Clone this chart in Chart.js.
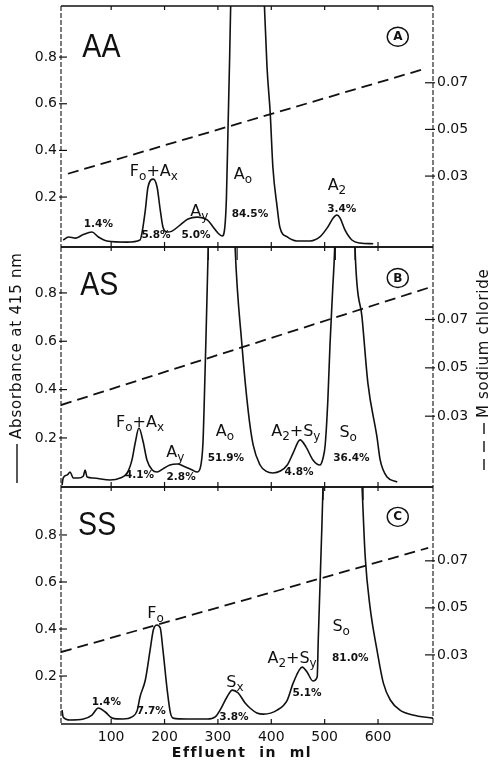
<!DOCTYPE html>
<html>
<head>
<meta charset="utf-8">
<script src="https://cdn.jsdelivr.net/npm/chart.js@4.4.1/dist/chart.umd.min.js"></script>
<style>
html,body{margin:0;padding:0;background:#fff;}
#wrap{width:495px;height:763px;position:relative;}
canvas{display:block;}
</style>
</head>
<body>
<div id="wrap"><canvas id="chart" width="495" height="763"></canvas></div>
<script>
// ---------------- DATA ----------------
const panelNames = ['AA', 'AS', 'SS'];
const panelTags = ['A', 'B', 'C'];
const effluentTicks = [100, 200, 300, 400, 500, 600];
const absorbanceTicks = [0.2, 0.4, 0.6, 0.8];
const chlorideTicks = [0.03, 0.05, 0.07];

// Absorbance at 415 nm vs effluent (ml)
const mlAA  = [10, 20, 33, 46, 64, 76, 92, 130, 154, 158, 164, 169, 179, 186, 192, 197, 205, 214, 229, 244, 261, 280, 291, 300, 308, 313, 316, 319, 322, 324, 355, 387, 392, 398, 403, 411, 416, 430, 448, 473, 491, 506, 516, 523, 529, 538, 551, 566, 591];
const absAA = [0.016, 0.029, 0.024, 0.037, 0.050, 0.029, 0.012, 0.007, 0.016, 0.050, 0.144, 0.243, 0.277, 0.243, 0.144, 0.072, 0.050, 0.054, 0.080, 0.106, 0.114, 0.102, 0.072, 0.046, 0.033, 0.072, 0.200, 0.500, 0.800, 1.030, 3.000, 1.030, 0.757, 0.560, 0.328, 0.157, 0.072, 0.029, 0.012, 0.012, 0.029, 0.072, 0.110, 0.123, 0.110, 0.059, 0.016, 0.003, 0.000];

const mlAS  = [8, 10, 18, 23, 29, 38, 48, 51, 55, 66, 98, 117, 130, 139, 145, 152, 160, 167, 177, 186, 197, 210, 224, 235, 252, 261, 267, 272, 274, 278, 282, 306, 332, 345, 357, 366, 379, 390, 403, 417, 430, 441, 454, 465, 478, 491, 497, 501, 506, 510, 515, 519, 538, 557, 570, 581, 598, 604, 617, 636];
const absAS = [0.005, 0.034, 0.047, 0.059, 0.034, 0.034, 0.043, 0.067, 0.038, 0.034, 0.026, 0.034, 0.055, 0.109, 0.179, 0.241, 0.183, 0.109, 0.067, 0.059, 0.072, 0.088, 0.092, 0.084, 0.067, 0.059, 0.076, 0.179, 0.316, 0.647, 1.000, 3.000, 1.000, 0.585, 0.307, 0.171, 0.088, 0.063, 0.055, 0.063, 0.088, 0.138, 0.192, 0.163, 0.109, 0.088, 0.117, 0.171, 0.357, 0.585, 0.813, 1.000, 3.000, 0.978, 0.700, 0.427, 0.204, 0.109, 0.038, 0.018];

const mlSS  = [8, 10, 23, 48, 64, 76, 89, 102, 122, 139, 149, 154, 164, 173, 179, 186, 192, 197, 205, 211, 216, 242, 280, 295, 304, 317, 327, 338, 351, 360, 373, 385, 411, 430, 441, 458, 467, 478, 486, 488, 491, 495, 497, 533, 570, 576, 585, 598, 610, 623, 641, 665, 703];
const absSS = [0.055, 0.026, 0.013, 0.017, 0.034, 0.064, 0.047, 0.021, 0.017, 0.026, 0.055, 0.111, 0.183, 0.311, 0.396, 0.417, 0.404, 0.311, 0.140, 0.043, 0.021, 0.017, 0.017, 0.026, 0.055, 0.111, 0.140, 0.128, 0.085, 0.064, 0.043, 0.038, 0.055, 0.098, 0.170, 0.238, 0.217, 0.179, 0.196, 0.353, 0.566, 0.851, 1.010, 3.000, 1.010, 0.706, 0.494, 0.311, 0.170, 0.098, 0.055, 0.034, 0.021];

// Sodium chloride gradient (M) vs effluent (ml)
const gradMlAA = [19, 688];
const gradAA   = [0.031, 0.076];
const gradMlAS = [6, 694];
const gradAS   = [0.0346, 0.0831];
const gradMlSS = [6, 694];
const gradSS   = [0.0312, 0.0755];

// fraction cut marks (ml)
const cutsAA = [282, 336, 520, 557];
const cutsAS = [497, 572];
const cutsSS = [];

// peak labels: text, ml, absorbance, kind (n = name, p = percent)
const labelsAA = [
  ['1.4%', 76, 0.089, 'p'], ['F_o+A_x', 180, 0.316, 'n'], ['5.8%', 184, 0.042, 'p'],
  ['A_y', 265, 0.144, 'n'], ['5.0%', 259, 0.042, 'p'], ['A_o', 347, 0.303, 'n'],
  ['84.5%', 360, 0.132, 'p'], ['A_2', 523, 0.256, 'n'], ['3.4%', 532, 0.153, 'p']
];
const labelsAS = [
  ['F_o+A_x', 154, 0.270, 'n'], ['4.1%', 153, 0.051, 'p'], ['A_y', 220, 0.146, 'n'],
  ['2.8%', 231, 0.043, 'p'], ['A_o', 313, 0.233, 'n'], ['51.9%', 315, 0.121, 'p'],
  ['A_2+S_y', 446, 0.233, 'n'], ['4.8%', 452, 0.063, 'p'], ['S_o', 544, 0.229, 'n'],
  ['36.4%', 550, 0.121, 'p']
];
const labelsSS = [
  ['1.4%', 91, 0.094, 'p'], ['F_o', 183, 0.472, 'n'], ['7.7%', 175, 0.055, 'p'],
  ['S_x', 332, 0.179, 'n'], ['3.8%', 330, 0.030, 'p'], ['A_2+S_y', 439, 0.281, 'n'],
  ['5.1%', 467, 0.132, 'p'], ['S_o', 531, 0.417, 'n'], ['81.0%', 548, 0.281, 'p']
];

// ---------------- SETUP ----------------
const FONT = "'DejaVu Sans', 'Liberation Sans', Arial, sans-serif";
const INK = '#111';
const ids = ['A', 'B', 'C'];
const curves = [[mlAA, absAA], [mlAS, absAS], [mlSS, absSS]];
const grads = [[gradMlAA, gradAA], [gradMlAS, gradAS], [gradMlSS, gradSS]];
const cuts = [cutsAA, cutsAS, cutsSS];
const labels = [labelsAA, labelsAS, labelsSS];
const yRanges = [[-0.014, 1.019], [-0.003, 0.990], [-0.004, 1.004]];
const stackW = [241, 240, 237];
const nameAnchor = [[46, 0.80], [42, 0.79], [38, 0.80]];
const tagAnchor = [[637, 0.887], [637, 0.862], [637, 0.877]];

const toXY = (xs, ys) => xs.map((x, i) => ({ x: x, y: ys[i] }));

const datasets = [];
ids.forEach((id, i) => {
  datasets.push({
    label: 'Absorbance ' + panelNames[i],
    data: toXY(curves[i][0], curves[i][1]),
    xAxisID: 'x', yAxisID: 'y' + id,
    borderColor: INK, borderWidth: 1.6, pointRadius: 0, fill: false,
    cubicInterpolationMode: 'monotone', clip: 0
  });
  datasets.push({
    label: 'NaCl ' + panelNames[i],
    data: toXY(grads[i][0], grads[i][1]),
    xAxisID: 'x', yAxisID: 'r' + id,
    borderColor: INK, borderWidth: 1.8, borderDash: [11, 6], pointRadius: 0, fill: false,
    tension: 0, clip: 0
  });
});

const scales = {
  x: {
    type: 'linear', position: 'bottom', min: 6, max: 703,
    grid: { display: false, drawTicks: false }, border: { display: false },
    ticks: { color: INK, font: { family: FONT, size: 14 }, padding: 5, maxRotation: 0, autoSkip: false },
    afterBuildTicks: s => { s.ticks = effluentTicks.map(v => ({ value: v })); },
    afterFit: s => { s.height = 39; s.paddingLeft = 0; s.paddingRight = 0; }
  }
};
ids.forEach((id, i) => {
  const [mn, mx] = yRanges[i];
  scales['y' + id] = {
    type: 'linear', position: 'left', stack: 'left', stackWeight: stackW[i], weight: 3 - i,
    min: mn, max: mx,
    grid: { display: false, drawTicks: false }, border: { display: false },
    ticks: { color: INK, font: { family: FONT, size: 14 }, padding: 4, callback: v => v.toFixed(1) },
    afterBuildTicks: s => { s.ticks = absorbanceTicks.map(v => ({ value: v })); },
    afterFit: s => { s.width = 61; s.paddingTop = 0; s.paddingBottom = 0; }
  };
  scales['r' + id] = {
    type: 'linear', position: 'right', stack: 'right', stackWeight: stackW[i], weight: i + 1,
    min: mn / 10 + 0.001, max: mx / 10 + 0.001,
    grid: { display: false, drawTicks: false }, border: { display: false },
    ticks: { color: INK, font: { family: FONT, size: 14 }, padding: 4, callback: v => v.toFixed(2) },
    afterBuildTicks: s => { s.ticks = chlorideTicks.map(v => ({ value: v })); },
    afterFit: s => { s.width = 62; s.paddingTop = 0; s.paddingBottom = 0; }
  };
});

function seg(ctx, x1, y1, x2, y2) {
  ctx.beginPath(); ctx.moveTo(x1, y1); ctx.lineTo(x2, y2); ctx.stroke();
}

function drawRich(ctx, text, cx, cy, size, bold) {
  const parts = [];
  for (let i = 0; i < text.length; i++) {
    if (text[i] === '_' && i + 1 < text.length) { parts.push({ t: text[i + 1], sub: true }); i++; }
    else parts.push({ t: text[i], sub: false });
  }
  const subSize = Math.round(size * 0.72);
  const w8 = bold ? 'bold ' : '';
  let w = 0;
  parts.forEach(p => {
    ctx.font = w8 + (p.sub ? subSize : size) + 'px ' + FONT;
    p.w = ctx.measureText(p.t).width; w += p.w;
  });
  let x = cx - w / 2;
  const base = cy + size * 0.36;
  ctx.textAlign = 'left'; ctx.textBaseline = 'alphabetic';
  parts.forEach(p => {
    ctx.font = w8 + (p.sub ? subSize : size) + 'px ' + FONT;
    ctx.fillText(p.t, x, p.sub ? base + size * 0.26 : base);
    x += p.w;
  });
}

const overlay = {
  id: 'overlay',
  afterDatasetsDraw(chart) {
    const ctx = chart.ctx;
    const xs = chart.scales.x;
    const L = xs.left, R = xs.right;
    ctx.save();
    ctx.strokeStyle = INK; ctx.fillStyle = INK;
    ids.forEach((id, i) => {
      const ys = chart.scales['y' + id], rs = chart.scales['r' + id];
      const T = ys.top, B = ys.bottom;
      // frame
      ctx.lineWidth = 1.3; ctx.setLineDash([]);
      seg(ctx, L, T, R, T); seg(ctx, L, B, R, B);
      ctx.lineWidth = 1.1; ctx.setLineDash([5, 2]);
      seg(ctx, L, T, L, B); seg(ctx, R, T, R, B);
      ctx.setLineDash([]); ctx.lineWidth = 1.2;
      // inward ticks
      absorbanceTicks.forEach(v => { const py = ys.getPixelForValue(v); seg(ctx, L - 2, py, L + 6, py); });
      chlorideTicks.forEach(v => { const py = rs.getPixelForValue(v); seg(ctx, R - 8, py, R + 2, py); });
      effluentTicks.forEach(v => {
        const px = xs.getPixelForValue(v);
        seg(ctx, px, B, px, B - 5); seg(ctx, px, T, px, T + 4);
      });
      // fraction cut marks
      cuts[i].forEach(v => { const px = xs.getPixelForValue(v); seg(ctx, px, B, px, B + 13); });
      // peak labels
      labels[i].forEach(([t, mlv, av, kind]) => {
        const px = xs.getPixelForValue(mlv), py = ys.getPixelForValue(av);
        if (kind === 'n') drawRich(ctx, t, px, py, 16, false);
        else drawRich(ctx, t, px, py, 10.5, true);
      });
      // big genotype name
      const nx = xs.getPixelForValue(nameAnchor[i][0]), ny = ys.getPixelForValue(nameAnchor[i][1]);
      ctx.save();
      ctx.translate(nx, ny); ctx.scale(0.84, 1);
      ctx.font = "34px 'Liberation Sans', Arial, sans-serif";
      ctx.textAlign = 'left'; ctx.textBaseline = 'alphabetic';
      ctx.fillText(panelNames[i], 0, 0);
      ctx.restore();
      // circled panel tag
      const cx = xs.getPixelForValue(tagAnchor[i][0]), cy = ys.getPixelForValue(tagAnchor[i][1]);
      ctx.lineWidth = 1.4;
      ctx.beginPath(); ctx.ellipse(cx, cy, 10.5, 9.5, 0, 0, Math.PI * 2); ctx.stroke();
      ctx.font = "bold 12px " + FONT; ctx.textAlign = 'center'; ctx.textBaseline = 'middle';
      ctx.fillText(panelTags[i], cx, cy + 0.5);
    });

    // left axis title
    const yB = chart.scales.yB;
    ctx.save();
    ctx.translate(17, yB.bottom - 48);
    ctx.rotate(-Math.PI / 2);
    ctx.font = '15px ' + FONT; ctx.textAlign = 'left'; ctx.textBaseline = 'middle';
    try { ctx.letterSpacing = '0.8px'; } catch (e) {}
    ctx.fillText('Absorbance at 415 nm', 0, 0);
    ctx.lineWidth = 1.4;
    seg(ctx, -5, 0, -44, 0);
    ctx.restore();

    // right axis title
    ctx.save();
    ctx.translate(484, yB.bottom - 17);
    ctx.rotate(-Math.PI / 2);
    ctx.lineWidth = 1.4;
    seg(ctx, 0, 0, 11, 0); seg(ctx, 18, 0, 29, 0); seg(ctx, 36, 0, 47, 0);
    ctx.font = '15px ' + FONT; ctx.textAlign = 'left'; ctx.textBaseline = 'middle';
    try { ctx.letterSpacing = '0.7px'; } catch (e) {}
    ctx.fillText('M sodium chloride', 52, 0);
    ctx.restore();

    // x axis title
    ctx.save();
    ctx.font = 'bold 14px ' + FONT; ctx.textAlign = 'center'; ctx.textBaseline = 'middle';
    try { ctx.letterSpacing = '1.5px'; } catch (e) {}
    ctx.fillText('Effluent  in  ml', (L + R) / 2 - 5, xs.bottom - 10);
    ctx.restore();

    ctx.restore();
  }
};

new Chart(document.getElementById('chart'), {
  type: 'line',
  data: { datasets: datasets },
  options: {
    responsive: false, animation: false, devicePixelRatio: 1,
    layout: { padding: { top: 6, left: 0, right: 0, bottom: 0 } },
    plugins: { legend: { display: false }, tooltip: { enabled: false } },
    scales: scales
  },
  plugins: [overlay]
});
</script>
</body>
</html>
